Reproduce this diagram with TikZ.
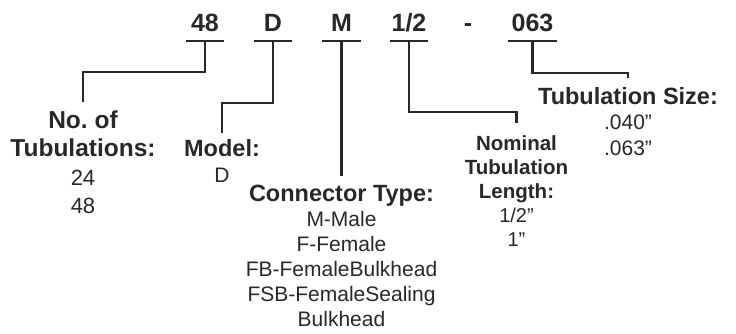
\documentclass[tikz,border=0pt]{standalone}
\usepackage{fontspec}
\setmainfont{Liberation Sans}
\definecolor{ink}{RGB}{40,40,40}
\newcommand\hd[2]{{\fontsize{#1}{#1}\selectfont\bfseries #2}}
\begin{document}
\begin{tikzpicture}
	[	x=1pt,y=1pt,
	code/.style={font=\fontsize{25}{25}\selectfont\bfseries,text=ink,minimum width=38pt,inner xsep=0pt,inner ysep=9pt,text depth=0pt,anchor=base},
	legend/.style={align=center,inner sep=0pt,anchor=north,text=ink},
	lead/.style={draw=ink,line width=2.6pt}
	]
	\useasboundingbox (0,0) rectangle (736,-334);
	% part number
	\node[code] (c48) at (205,-32){48};
	\node[code] (cD) at (273,-32){D};
	\node[code] (cM) at (341.5,-32){M};
	\node[code] (c12) at (409,-32){1/2};
	\node[code] (cdash) at (468,-32){-};
	\node[code,minimum width=48pt] (c063) at (532.5,-32){063};
	\foreach \c in {c48,cD,cM,c12,c063}
		\draw[lead] (\c.south west) -- (\c.south east);
	% legends
	\node[legend,font=\fontsize{22}{28.5}\selectfont] (ntub) at (83,-110.4){\hd{24.5}{No.\ of}\\\hd{24.5}{Tubulations:}\\24\\48};
	\node[legend,font=\fontsize{21}{25.5}\selectfont] (model) at (222,-139.7){\hd{23.5}{Model:}\\D};
	\node[legend,font=\fontsize{21}{25}\selectfont] (conn) at (341.5,-185){\hd{23.5}{Connector Type:}\\M-Male\\F-Female\\FB-FemaleBulkhead\\FSB-FemaleSealing\\Bulkhead};
	\node[legend,font=\fontsize{20}{24}\selectfont] (nom) at (516.5,-135.3){\hd{20.5}{Nominal}\\\hd{20.5}{Tubulation}\\\hd{20.5}{Length:}\\1/2”\\1”};
	\node[legend,font=\fontsize{21}{25.5}\selectfont] (tsize) at (628,-87){\hd{23.5}{Tubulation Size:}\\.040”\\.063”};
	% leaders
	\draw[lead,shorten >=8.4pt] (c48.south) -- ++(0,-31) -| (ntub.north);
	\draw[lead,shorten >=6.7pt] (cD.south) -- ++(0,-62) -| (model.north);
	\draw[lead,shorten >=9pt] (cM.south) -- (conn.north);
	\draw[lead,shorten >=12.3pt] (c12.south) -- ++(0,-71) -| (nom.north);
	\draw[lead,shorten >=8.5pt] (c063.south) -- ++(0,-32) -| (tsize.north);
\end{tikzpicture}
\end{document}
